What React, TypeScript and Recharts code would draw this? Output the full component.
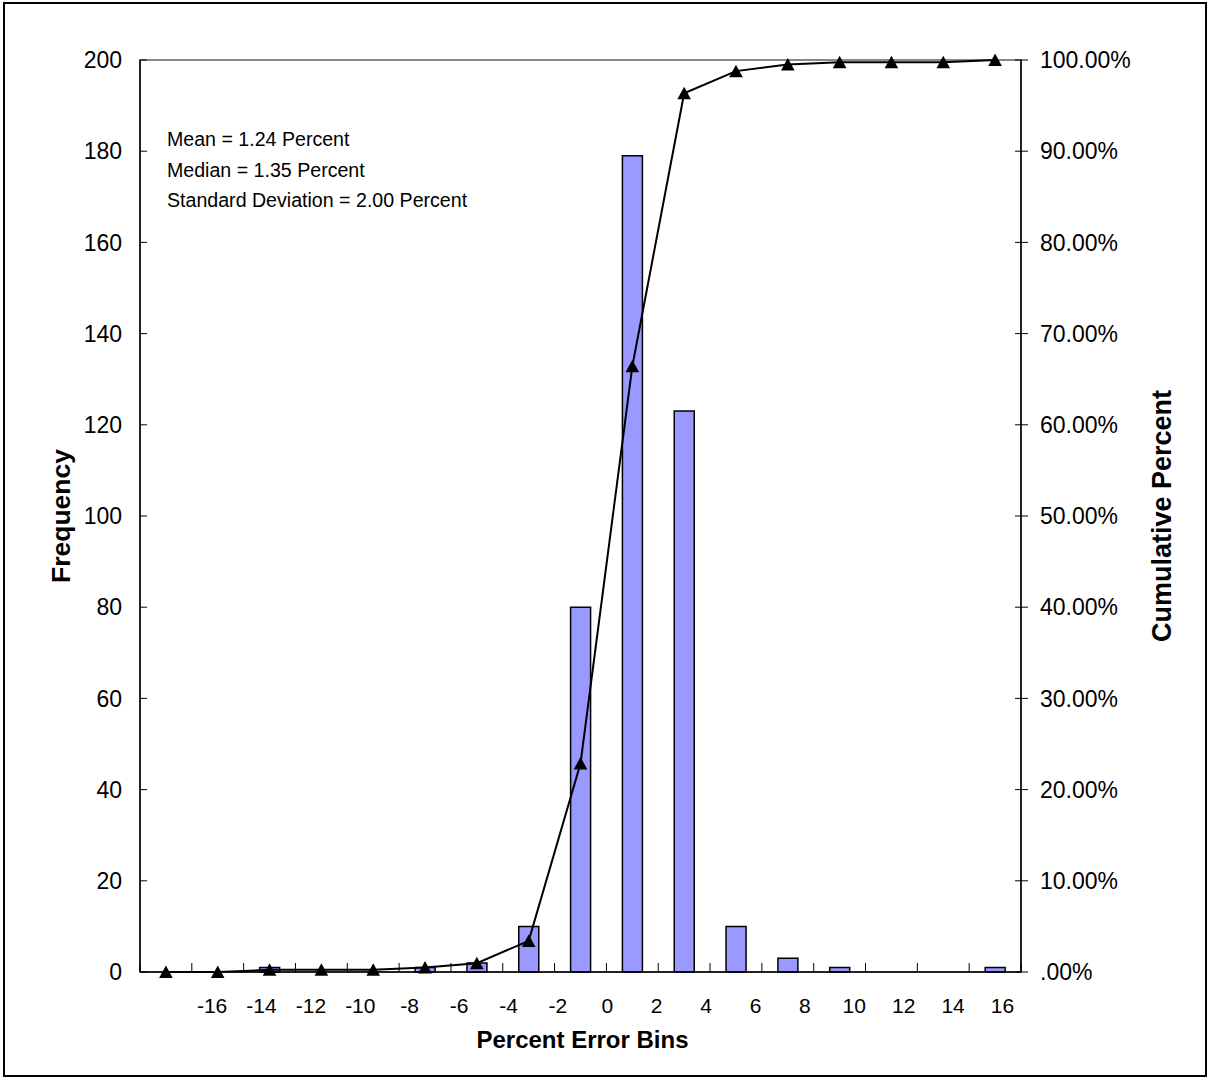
import React from "react";
import { ComposedChart, Bar, Line, XAxis, YAxis, ReferenceArea, Label } from "recharts";

// bins in plotting order (one bar per bin)
const bins = [0, 1, 2, 3, 4, 5, 6, 7, 8, 9, 10, 11, 12, 13, 14, 15, 16];
const frequency = [0, 0, 1, 0, 0, 1, 2, 10, 80, 179, 123, 10, 3, 1, 0, 0, 1];
const cumulative = [0, 0, 0.24, 0.24, 0.24, 0.49, 0.97, 3.41, 22.87, 66.42, 96.35, 98.78, 99.51, 99.76, 99.76, 99.76, 100];
const binLabels = [-16, -14, -12, -10, -8, -6, -4, -2, 0, 2, 4, 6, 8, 10, 12, 14, 16];
const freqTicks = [0, 20, 40, 60, 80, 100, 120, 140, 160, 180, 200];
const cumTicks = [0, 10, 20, 30, 40, 50, 60, 70, 80, 90, 100];
const stats = ["Mean = 1.24 Percent", "Median = 1.35 Percent", "Standard Deviation = 2.00 Percent"];

const data = bins.map((b, i) => ({ bin: b, freq: frequency[i], cum: cumulative[i] }));
const binEdges = [bins[0] - 0.5, ...bins.map((b) => b + 0.5)];

const pct = (v: number) => (v === 0 ? ".00%" : `${v.toFixed(2)}%`);

// right axis: tick crosses the axis line, label to the right
function RightTick(props: any) {
  const { x, y, payload } = props;
  return (
    <g>
      <line x1={x - 25} x2={x - 12} y1={y} y2={y} stroke="#000" />
      <text x={x} y={y} dy="0.355em" fontSize={23} fill="#000" textAnchor="start">
        {pct(payload.value)}
      </text>
    </g>
  );
}

// left axis: tick points inward, label outside
function LeftTick(props: any) {
  const { x, y, payload } = props;
  return (
    <g>
      <line x1={x + 18} x2={x + 25} y1={y} y2={y} stroke="#000" />
      <text x={x} y={y} dy="0.355em" fontSize={23} fill="#000" textAnchor="end">
        {payload.value}
      </text>
    </g>
  );
}

// bin edges: inward tick marks only
function EdgeTick(props: any) {
  const { x, y } = props;
  return <line x1={x} x2={x} y1={y - 9} y2={y} stroke="#000" />;
}

function triangle(p: any) {
  const { cx, cy, index } = p;
  return (
    <path
      key={`t-${index}`}
      d={`M${cx},${cy - 6.5}L${cx + 6.8},${cy + 6}L${cx - 6.8},${cy + 6}Z`}
      fill="#000"
    />
  );
}

export default function App() {
  return (
    <div
      style={{
        position: "absolute",
        left: 3,
        top: 2,
        width: 1200,
        height: 1071,
        border: "2px solid #000",
        background: "#fff",
        fontFamily: '"Liberation Sans", Arial, sans-serif',
      }}
    >
      <ComposedChart width={1200} height={1071} data={data} margin={{ top: 56, right: 0, bottom: 0, left: 0 }}>
        <ReferenceArea
          xAxisId="bins"
          yAxisId="freq"
          x1={binEdges[0]}
          x2={binEdges[binEdges.length - 1]}
          y1={0}
          y2={200}
          fill="none"
          stroke="#888"
          strokeWidth={2}
          fillOpacity={0}
        />
        <XAxis
          xAxisId="bins"
          dataKey="bin"
          type="number"
          domain={[binEdges[0], binEdges[binEdges.length - 1]]}
          allowDataOverflow
          ticks={binEdges}
          interval={0}
          tick={<EdgeTick />}
          tickSize={0}
          tickMargin={0}
          height={1}
          axisLine={{ stroke: "#000", strokeWidth: 1.5 }}
          tickLine={false}
        />
        <XAxis
          xAxisId="labels"
          dataKey="bin"
          type="number"
          domain={[-18.92, 16.75]}
          allowDataOverflow
          ticks={binLabels}
          interval={0}
          axisLine={false}
          tickLine={false}
          tickSize={0}
          tickMargin={25}
          height={102}
          tick={{ fill: "#000", fontSize: 21 }}
        >
          <Label value="Percent Error Bins" position="insideBottom" offset={27} dx={2} fontSize={24} fontWeight="bold" fill="#000" />
        </XAxis>
        <YAxis
          yAxisId="freq"
          orientation="left"
          width={135}
          domain={[0, 200]}
          ticks={freqTicks}
          interval={0}
          tickSize={0}
          tickMargin={18}
          axisLine={{ stroke: "#000", strokeWidth: 1.5 }}
          tickLine={false}
          tick={<LeftTick />}
        >
          <Label value="Frequency" angle={-90} position="center" dx={-12} fontSize={26.5} fontWeight="bold" fill="#000" />
        </YAxis>
        <YAxis
          yAxisId="cum"
          orientation="right"
          width={184}
          domain={[0, 100]}
          ticks={cumTicks}
          interval={0}
          tickSize={7}
          tickMargin={12}
          axisLine={{ stroke: "#000", strokeWidth: 1.5 }}
          tickLine={false}
          tick={<RightTick />}
        >
          <Label value="Cumulative Percent" angle={-90} position="center" dx={48} fontSize={27} fontWeight="bold" fill="#000" />
        </YAxis>
        <Bar
          xAxisId="bins"
          yAxisId="freq"
          dataKey="freq"
          barSize={20}
          fill="#9999FF"
          stroke="#000"
          strokeWidth={1.5}
          isAnimationActive={false}
        />
        <Line
          xAxisId="bins"
          yAxisId="cum"
          dataKey="cum"
          type="linear"
          stroke="#000"
          strokeWidth={2}
          dot={triangle}
          activeDot={false}
          isAnimationActive={false}
        />
      </ComposedChart>
      <div style={{ position: "absolute", left: 162, top: 120, fontSize: 19.6, lineHeight: "30.5px", color: "#000" }}>
        {stats.map((s) => (
          <div key={s}>{s}</div>
        ))}
      </div>
    </div>
  );
}
